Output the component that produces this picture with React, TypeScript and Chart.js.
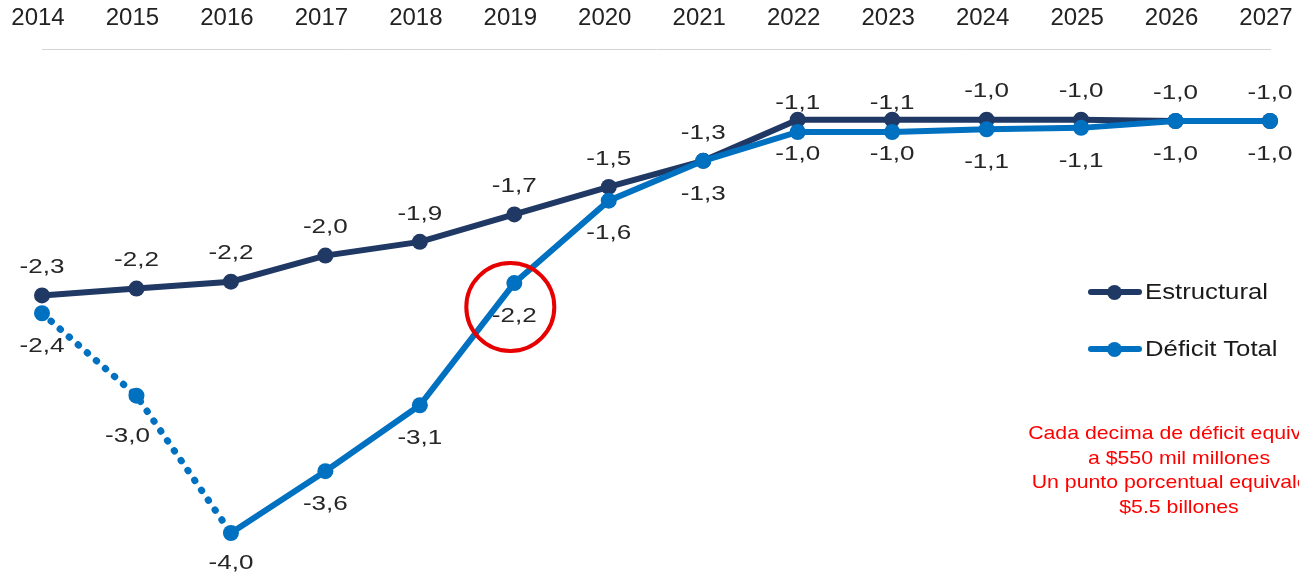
import React, { useEffect, useRef } from "react";
import { Chart, registerables } from "chart.js";

Chart.register(...registerables);

// ---------- data ----------
const years = ["2014", "2015", "2016", "2017", "2018", "2019", "2020", "2021", "2022", "2023", "2024", "2025", "2026", "2027"];
const estructural = [-2.27, -2.22, -2.17, -1.98, -1.88, -1.68, -1.48, -1.29, -0.99, -0.99, -0.99, -0.99, -1.0, -1.0];
const deficitTotal = [-2.4, -3.0, -4.0, -3.55, -3.07, -2.18, -1.58, -1.29, -1.08, -1.08, -1.06, -1.05, -1.0, -1.0];
const estructuralLabels = ["-2,3", "-2,2", "-2,2", "-2,0", "-1,9", "-1,7", "-1,5", "-1,3", "-1,1", "-1,1", "-1,0", "-1,0", "-1,0", "-1,0"];
const deficitTotalLabels = ["-2,4", "-3,0", "-4,0", "-3,6", "-3,1", "-2,2", "-1,6", "-1,3", "-1,0", "-1,0", "-1,1", "-1,1", "-1,0", "-1,0"];
const seriesNames = ["Estructural", "Déficit Total"];
const noteLines = [
  "Cada decima de déficit equivale",
  "a $550 mil millones",
  "Un punto porcentual equivale a",
  "$5.5 billones",
];
const dottedUntilIndex = 2; // Déficit Total drawn dotted from 2014 to 2016
const highlightIndex = 5; // 2019 point circled in red

// ---------- styles ----------
const NAVY = "#203864";
const BLUE = "#0070C0";
const FONT = '"Liberation Sans", Arial, sans-serif';

const valueLabelPlugin = {
  id: "valueLabels",
  afterDatasetsDraw(chart: any, _args: any, opts: any) {
    const ctx = chart.ctx;
    ctx.save();
    ctx.font = `${opts.size}px ${FONT}`;
    ctx.fillStyle = opts.color;
    ctx.textAlign = "center";
    ctx.textBaseline = "middle";
    chart.data.datasets.forEach((_ds: any, di: number) => {
      const meta = chart.getDatasetMeta(di);
      const texts = opts.texts[di];
      const off = opts.offsets[di];
      meta.data.forEach((pt: any, i: number) => {
        const n = (opts.nudges && opts.nudges[`${di}-${i}`]) || [0, 0];
        const x = pt.x + n[0];
        const y = pt.y + off + n[1];
        ctx.save();
        ctx.translate(x, y);
        ctx.scale(opts.stretch, 1);
        ctx.fillText(texts[i], 0, 0);
        ctx.restore();
      });
    });
    ctx.restore();
  },
};

const circlePlugin = {
  id: "highlightCircle",
  afterDatasetsDraw(chart: any, _args: any, opts: any) {
    const meta = chart.getDatasetMeta(opts.datasetIndex);
    const pt = meta.data[opts.index];
    if (!pt) return;
    const ctx = chart.ctx;
    ctx.save();
    ctx.strokeStyle = opts.color;
    ctx.lineWidth = opts.width;
    ctx.beginPath();
    ctx.arc(pt.x + opts.dx, pt.y + opts.dy, opts.radius, 0, Math.PI * 2);
    ctx.stroke();
    ctx.restore();
  },
};

function LegendItem({ color, label, y }: { color: string; label: string; y: number }) {
  return (
    <div style={{ position: "absolute", left: 1088, top: y - 15, height: 30, width: 211 }}>
      <div style={{ position: "absolute", left: 0, top: 12, width: 54, height: 6, background: color, borderRadius: 3 }} />
      <div style={{ position: "absolute", left: 19, top: 8, width: 15, height: 15, background: color, borderRadius: 8 }} />
      <div
        style={{
          position: "absolute",
          left: 57,
          top: 0,
          lineHeight: "30px",
          fontFamily: FONT,
          fontSize: 22,
          color: "#1a1a1a",
          whiteSpace: "nowrap",
          transform: "scaleX(1.17)",
          transformOrigin: "left center",
        }}
      >
        {label}
      </div>
    </div>
  );
}

export default function App() {
  const canvasRef = useRef<HTMLCanvasElement | null>(null);

  useEffect(() => {
    if (!canvasRef.current) return;
    const chart = new Chart(canvasRef.current, {
      type: "line",
      data: {
        labels: years,
        datasets: [
          {
            label: seriesNames[0],
            data: estructural,
            borderColor: NAVY,
            backgroundColor: NAVY,
            borderWidth: 6,
            pointRadius: 8,
            pointHoverRadius: 8,
            pointBorderWidth: 0,
            tension: 0,
            order: 1,
            clip: false,
          },
          {
            label: seriesNames[1],
            data: deficitTotal,
            borderColor: BLUE,
            backgroundColor: BLUE,
            borderWidth: 6,
            pointRadius: 8,
            pointHoverRadius: 8,
            pointBorderWidth: 0,
            tension: 0,
            order: 0,
            clip: false,
            borderCapStyle: "round",
            segment: {
              borderDash: (c: any) => (c.p1DataIndex <= dottedUntilIndex ? [0.5, 11.5] : undefined),
              borderWidth: (c: any) => (c.p1DataIndex <= dottedUntilIndex ? 7 : undefined),
              borderCapStyle: "round",
            },
          },
        ],
      },
      options: {
        animation: false,
        responsive: false,
        devicePixelRatio: 1,
        layout: { autoPadding: false, padding: { left: 42, right: 29, top: 0, bottom: 0 } },
        plugins: {
          legend: { display: false },
          tooltip: { enabled: false },
          valueLabels: {
            size: 21,
            stretch: 1.24,
            color: "#262626",
            texts: [estructuralLabels, deficitTotalLabels],
            offsets: [-28, 33],
            nudges: {
              "0-8": [0, 12],
              "0-9": [0, 12],
              "1-1": [-9, 8],
              "1-2": [0, -3],
              "1-8": [0, -11],
              "1-9": [0, -11],
            },
          },
          highlightCircle: {
            datasetIndex: 1,
            index: highlightIndex,
            dx: -4,
            dy: 24,
            radius: 44,
            width: 4,
            color: "#E60000",
          },
        } as any,
        scales: {
          x: {
            type: "category",
            position: "top",
            offset: false,
            grid: { display: false, drawTicks: false },
            border: { display: true, color: "#d4d4d4", width: 1, dash: [1, 2] },
            ticks: {
              padding: 16,
              labelOffset: -4,
              color: "#222222",
              font: { family: FONT, size: 24 },
              maxRotation: 0,
              autoSkip: false,
            },
            afterFit: (s: any) => {
              s.height = 49;
              s.paddingLeft = 0;
              s.paddingRight = 0;
            },
          },
          y: {
            display: false,
            min: -4.3204,
            max: -0.4757,
          },
        },
      },
      plugins: [valueLabelPlugin, circlePlugin],
    });
    return () => chart.destroy();
  }, []);

  return (
    <div
      style={{
        position: "absolute",
        left: 0,
        top: 0,
        width: 1299,
        height: 577,
        overflow: "hidden",
        background: "#ffffff",
      }}
    >
      <canvas ref={canvasRef} width={1299} height={577} style={{ position: "absolute", left: 0, top: 0 }} />
      <LegendItem color={NAVY} label={seriesNames[0]} y={292} />
      <LegendItem color={BLUE} label={seriesNames[1]} y={349} />
      <div
        style={{
          position: "absolute",
          left: 979,
          top: 421,
          width: 400,
          textAlign: "center",
          fontFamily: FONT,
          fontSize: 19,
          lineHeight: "24.7px",
          color: "#FF0000",
          whiteSpace: "nowrap",
          transform: "scaleX(1.12)",
          transformOrigin: "center top",
        }}
      >
        {noteLines.map((l, i) => (
          <div key={i}>{l}</div>
        ))}
      </div>
    </div>
  );
}
